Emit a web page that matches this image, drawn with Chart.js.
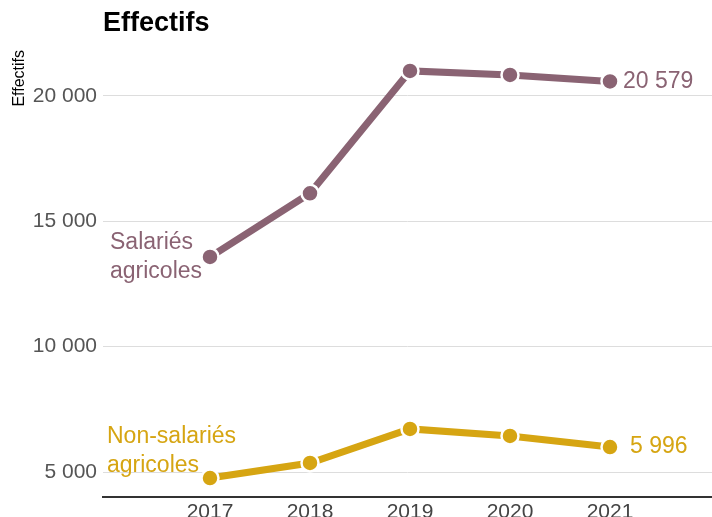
<!DOCTYPE html>
<html>
<head>
<meta charset="utf-8">
<script src="https://cdn.jsdelivr.net/npm/chart.js@4"></script>
<style>
  html, body { margin: 0; padding: 0; background: #fff; }
  #wrap { width: 712px; height: 517px; }
</style>
</head>
<body>
<div id="wrap"><canvas id="myChart" width="712" height="517"></canvas></div>
<script>
const years = [2017, 2018, 2019, 2020, 2021];
const salaries = [13580, 16120, 21000, 20840, 20579];
const nonSalaries = [4760, 5360, 6720, 6440, 5996];
const yTicks = [5000, 10000, 15000, 20000];

const purple = '#8a6373';
const gold = '#d6a512';
const FONT = 'Liberation Sans, Arial, sans-serif';

function fmt(v) {
    return String(Math.round(v)).replace(/\B(?=(\d{3})+(?!\d))/g, ' ');
}

function toPoints(values) {
    return values.map((v, i) => ({ x: years[i], y: v }));
}

const labelsPlugin = {
    id: 'labels',
    afterDatasetsDraw(chart) {
        const c = chart.ctx;
        const xs = chart.scales.x;
        const ys = chart.scales.y;
        c.save();
        c.textBaseline = 'middle';
        c.textAlign = 'left';

        // titre
        c.fillStyle = '#000';
        c.font = 'bold 27px ' + FONT;
        c.fillText('Effectifs', 103, 24);

        c.font = '23px ' + FONT;
        const last = years.length - 1;

        // salariés
        c.fillStyle = purple;
        let px = xs.getPixelForValue(years[0]);
        let py = ys.getPixelForValue(salaries[0]);
        c.fillText('Salariés', px - 100, py - 14);
        c.fillText('agricoles', px - 100, py + 15);
        c.fillText(fmt(salaries[last]), xs.getPixelForValue(years[last]) + 13, ys.getPixelForValue(salaries[last]));

        // non-salariés
        c.fillStyle = gold;
        py = ys.getPixelForValue(nonSalaries[0]);
        c.fillText('Non-salariés', px - 103, py - 41);
        c.fillText('agricoles', px - 103, py - 12);
        c.fillText(fmt(nonSalaries[last]), xs.getPixelForValue(years[last]) + 20, ys.getPixelForValue(nonSalaries[last]));
        c.restore();
    }
};

function lineDataset(label, values, color) {
    return {
        label: label,
        data: toPoints(values),
        borderColor: color,
        backgroundColor: color,
        borderWidth: 7,
        pointRadius: 8.5,
        pointBorderColor: '#fff',
        pointBorderWidth: 2.5,
        pointBackgroundColor: color,
        fill: false,
        tension: 0,
        clip: false
    };
}

const ctx = document.getElementById('myChart').getContext('2d');
const chart = new Chart(ctx, {
    type: 'line',
    data: {
        datasets: [
            lineDataset('Salariés agricoles', salaries, purple),
            lineDataset('Non-salariés agricoles', nonSalaries, gold)
        ]
    },
    options: {
        responsive: false,
        animation: false,
        layout: { autoPadding: false, padding: { top: 50, left: 0, right: 0, bottom: 0 } },
        plugins: {
            legend: { display: false },
            tooltip: { enabled: false }
        },
        scales: {
            x: {
                type: 'linear',
                min: 2015.93,
                max: 2022.02,
                afterBuildTicks: axis => { axis.ticks = years.map(v => ({ value: v })); },
                afterFit: axis => { axis.height = 20; },
                grid: { display: false, drawTicks: false },
                border: { display: true, color: '#333', width: 2 },
                ticks: {
                    padding: 3,
                    color: '#444',
                    font: { family: FONT, size: 21 },
                    callback: v => String(v)
                }
            },
            y: {
                min: 4003,
                max: 21835,
                afterBuildTicks: axis => { axis.ticks = yTicks.map(v => ({ value: v })); },
                afterFit: axis => { axis.width = 103; },
                grid: { color: '#dddddd', lineWidth: 1, drawTicks: false },
                border: { display: false },
                title: {
                    display: true,
                    text: 'Effectifs',
                    align: 'end',
                    color: '#000',
                    font: { family: FONT, size: 16 },
                    padding: { top: 10, bottom: 0 }
                },
                ticks: {
                    padding: 6,
                    color: '#555',
                    font: { family: FONT, size: 21 },
                    callback: v => fmt(v)
                }
            }
        }
    },
    plugins: [labelsPlugin]
});
</script>
</body>
</html>
